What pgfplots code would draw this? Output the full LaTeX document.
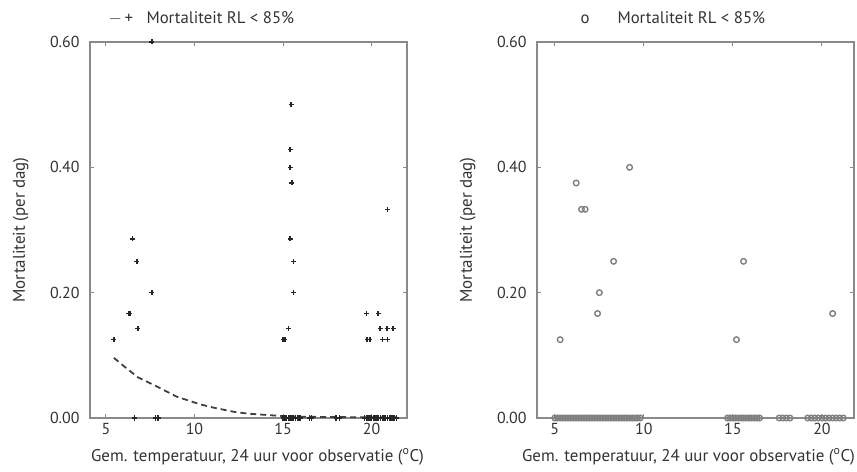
\documentclass[border=0pt]{standalone}
\usepackage{pgfplots}
\pgfplotsset{compat=1.18}
\usepackage{fontspec}
\setmainfont{PT Sans}
\definecolor{txt}{HTML}{333333}
\definecolor{axl}{HTML}{8A8A8A}
\pgfplotsset{
  myax/.style={
    scale only axis, width=317bp, height=376bp,
    ymin=0, ymax=0.6,
    ytick={0,0.2,0.4,0.6},
    yticklabel style={/pgf/number format/fixed, /pgf/number format/fixed zerofill, /pgf/number format/precision=2, xshift=-7bp},
    xtick={5,10,15,20},
    /pgf/number format/assume math mode=true,
    tick align=inside, major tick length=4bp,
    tick style={axl, line width=1pt},
    axis line style={axl, line width=1.8pt},
    every tick label/.style={font=\fontsize{16}{18}\selectfont, text=txt},
    xticklabel style={yshift=-2bp},
    label style={font=\fontsize{17}{19}\selectfont, text=txt},
    xlabel={Gem. temperatuur, 24 uur voor observatie (\textsuperscript{o}C)},
    ylabel={Mortaliteit (per dag)},
    ylabel style={at={(axis description cs:0,0.5)}, anchor=south, yshift=58bp},
    xlabel style={yshift=-7bp, xshift=9bp},
    clip=false,
  }
}
\begin{document}
\begin{tikzpicture}
\useasboundingbox (-90bp,-54bp) rectangle (767bp,418bp);
\begin{axis}[myax, xmin=4.1, xmax=22]
\addplot[only marks, mark=+, mark size=2.5bp, black!85, line width=1.4pt] coordinates {
(7.6,0.6)(15.45,0.5)(15.4,0.4286)(15.4,0.4)(15.5,0.375)(20.9,0.333)
(6.5,0.2857)(15.4,0.2857)(6.75,0.25)(15.6,0.25)(7.6,0.2)(15.6,0.2)
(6.3,0.1667)(6.35,0.1667)(19.7,0.1667)(20.37,0.1667)(20.4,0.1667)
(6.8,0.1429)(15.3,0.1429)(20.48,0.1429)(20.88,0.1429)(21.21,0.1429)
(5.45,0.125)(15.0,0.125)(15.05,0.125)(15.1,0.125)(19.75,0.125)(19.9,0.125)(20.6,0.125)(20.9,0.125)
(6.6,0)(7.8,0)(7.95,0)
(15.0,0)(15.1,0)(15.2,0)(15.3,0)(15.4,0)(15.5,0)(15.6,0)(15.7,0)(15.8,0)(15.9,0)(16.0,0)
(16.5,0)(16.6,0)(18.0,0)(18.2,0)
(19.6,0)(19.7,0)(19.8,0)(19.9,0)(20.0,0)(20.1,0)(20.2,0)(20.3,0)(20.4,0)(20.5,0)(20.6,0)(20.7,0)(20.8,0)(20.9,0)(21.0,0)(21.1,0)(21.2,0)(21.3,0)(21.4,0)
};
\addplot[black!75, line width=1.8pt, dash pattern=on 6bp off 4bp] coordinates {
(5.45,0.096)(6.0,0.083)(6.8,0.065)(7.9,0.050)(9.0,0.034)(10.3,0.022)(11.0,0.017)(12.2,0.010)(13.0,0.007)(14.0,0.005)(15.0,0.003)(16.0,0.002)(18.0,0.0015)(20.0,0.001)(21.4,0.001)
};
\end{axis}
\node[anchor=base west, text=txt, font=\fontsize{16.8}{18}\selectfont] at (15bp,394bp) {$-$\,+};
\node[anchor=base west, text=txt, font=\fontsize{16.8}{18}\selectfont] at (53bp,394bp) {Mortaliteit RL < 85\%};
\begin{axis}[myax, xmin=4.0, xmax=21.8, xshift=447bp, xlabel style={xshift=-16bp}]
\addplot[only marks, mark=o, mark size=2.8bp, gray, line width=1.4pt] coordinates {
(9.2,0.4)(6.2,0.375)(6.5,0.333)(6.7,0.333)(8.3,0.25)(15.6,0.25)
(7.5,0.2)(7.4,0.1667)(20.6,0.1667)(5.3,0.125)(15.2,0.125)
(5.0,0)(5.15,0)(5.3,0)(5.45,0)(5.6,0)(5.75,0)(5.9,0)(6.05,0)(6.2,0)(6.35,0)(6.5,0)(6.65,0)(6.8,0)(6.95,0)(7.1,0)(7.25,0)(7.4,0)(7.55,0)(7.7,0)(7.85,0)(8.0,0)(8.15,0)(8.3,0)(8.45,0)(8.6,0)(8.75,0)(8.9,0)(9.05,0)(9.2,0)(9.35,0)(9.5,0)(9.65,0)(9.8,0)
(14.7,0)(14.85,0)(15.0,0)(15.15,0)(15.3,0)(15.45,0)(15.6,0)(15.75,0)(15.9,0)(16.05,0)(16.2,0)(16.35,0)(16.5,0)
(17.6,0)(17.8,0)(18.0,0)(18.2,0)
(19.2,0)(19.4,0)(19.6,0)(19.8,0)(20.0,0)(20.2,0)(20.4,0)(20.6,0)(20.8,0)(21.0,0)(21.2,0)
};
\end{axis}
\node[anchor=base west, text=txt, font=\fontsize{16.8}{18}\selectfont] at (487bp,394bp) {o};
\node[anchor=base west, text=txt, font=\fontsize{16.8}{18}\selectfont] at (524bp,394bp) {Mortaliteit RL < 85\%};
\end{tikzpicture}
\end{document}
